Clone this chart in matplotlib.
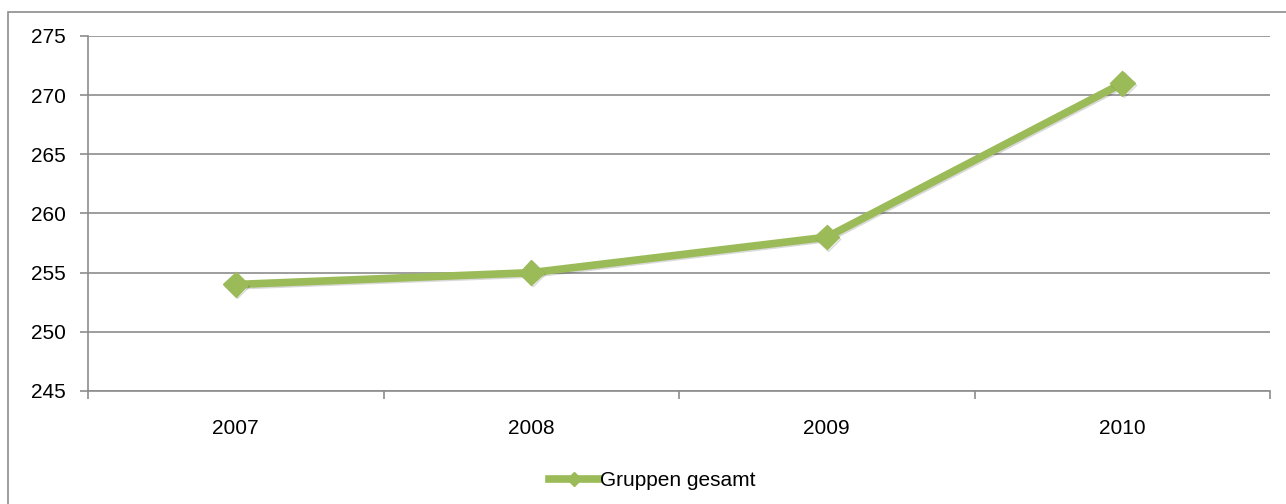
import numpy
from matplotlib import pyplot
from matplotlib import patheffects
from matplotlib.patches import Rectangle

years = ["2007", "2008", "2009", "2010"]
gruppen_gesamt = [254, 255, 258, 271]
y_ticks = [245, 250, 255, 260, 265, 270, 275]

pyplot.rcParams["font.family"] = ["Liberation Sans", "DejaVu Sans"]

fig = pyplot.figure(figsize=(12.86, 5.04), dpi=100)
fig.patches.append(Rectangle((8 / 1286, -0.5), 2.0, 1.5 - 12 / 504,
                             transform=fig.transFigure, fill=False,
                             edgecolor="#8c8c8c", linewidth=1.2))

axes = fig.add_axes([88 / 1286, 1 - 391 / 504, 1182 / 1286, 355 / 504])

x = numpy.arange(len(years))
shadow = [patheffects.SimpleLineShadow(offset=(1, -1), alpha=0.15),
          patheffects.Normal()]
axes.plot(x, gruppen_gesamt, "-D", color="#9bbb59", linewidth=5.5,
          markersize=12.5, label="Gruppen gesamt", path_effects=shadow)

axes.set_xlim(-0.5, len(years) - 0.5)
axes.set_ylim(245, 275)
axes.set_yticks(y_ticks)
axes.set_xticks(x)
axes.set_xticklabels(years)
axes.set_xticks(numpy.arange(len(years) + 1) - 0.5, minor=True)
axes.yaxis.grid(True, color="#8c8c8c", linewidth=1.2)
axes.set_axisbelow(True)

for side in ["top", "right"]:
    axes.spines[side].set_visible(False)
for side in ["left", "bottom"]:
    axes.spines[side].set_color("#8c8c8c")
    axes.spines[side].set_linewidth(1.2)

axes.tick_params(axis="y", length=6, color="#8c8c8c", width=1.2,
                 labelsize=15, pad=10)
axes.tick_params(axis="x", which="major", length=0, labelsize=15, pad=20)
axes.tick_params(axis="x", which="minor", length=6, color="#8c8c8c",
                 width=1.2)

leg = fig.legend(loc="center", bbox_to_anchor=(0.507, 1 - 481 / 504),
                 frameon=False, fontsize=15, handlelength=2.4,
                 handletextpad=0.05)
for handle in leg.legend_handles:
    handle.set_markersize(7)
    handle.set_path_effects([])

fig.savefig("out.png", dpi=100)
